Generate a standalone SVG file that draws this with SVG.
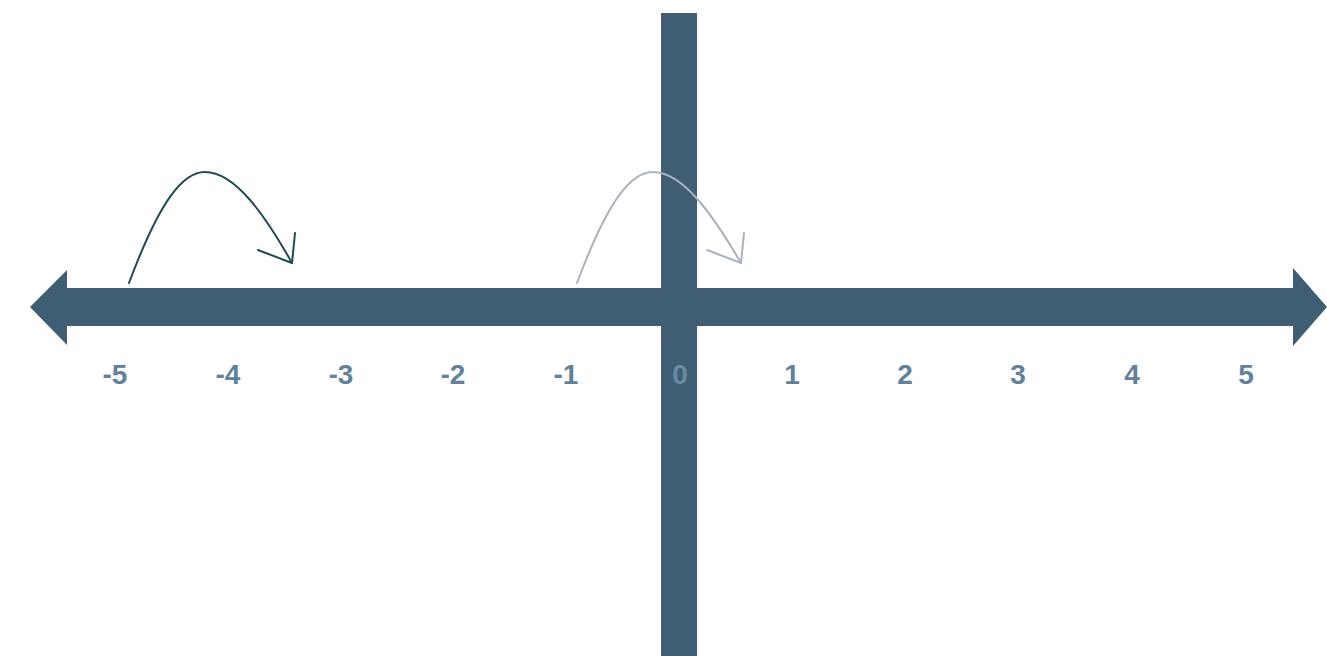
<svg xmlns="http://www.w3.org/2000/svg" width="1327" height="656" viewBox="0 0 1327 656">
<style>
.axis{fill:#3f5e73}
.lbl{font-family:"Liberation Sans",Arial,sans-serif;font-weight:bold;font-size:28px;fill:#62829c;text-anchor:middle}
.jump{fill:none;stroke-width:2;stroke-linecap:round;stroke-linejoin:round}
</style>
<rect width="1327" height="656" fill="#ffffff"/>
<g id="number-line">
<polygon class="axis" points="30,307 67,270 67,288 1293,288 1293,268 1327,307 1293,346 1293,326 67,326 67,345"/>
</g>
<g id="y-axis">
<rect class="axis" x="661" y="13" width="36" height="643"/>
</g>
<g id="labels">
<text class="lbl" x="115" y="384">-5</text>
<text class="lbl" x="228" y="384">-4</text>
<text class="lbl" x="341" y="384">-3</text>
<text class="lbl" x="453" y="384">-2</text>
<text class="lbl" x="566" y="384">-1</text>
<text class="lbl" x="680" y="384" style="fill:#6a8aa3">0</text>
<text class="lbl" x="792" y="384">1</text>
<text class="lbl" x="905" y="384">2</text>
<text class="lbl" x="1018" y="384">3</text>
<text class="lbl" x="1132" y="384">4</text>
<text class="lbl" x="1246" y="384">5</text>
</g>
<g id="connectors">
<g id="jump1" stroke="#1d4c52">
<path class="jump" d="M129,283 C160,200 183,172 205,172 C235,172 265,215 292,263"/>
<path class="jump" d="M295,233 L292,263 L258,250"/>
</g>
<g id="jump2" stroke="#aab3bd">
<path class="jump" d="M577,283 C608,200 631,172 653,172 C683,172 713,215 741,263"/>
<path class="jump" d="M744,233 L741,263 L707,250"/>
</g>
</g>
</svg>
